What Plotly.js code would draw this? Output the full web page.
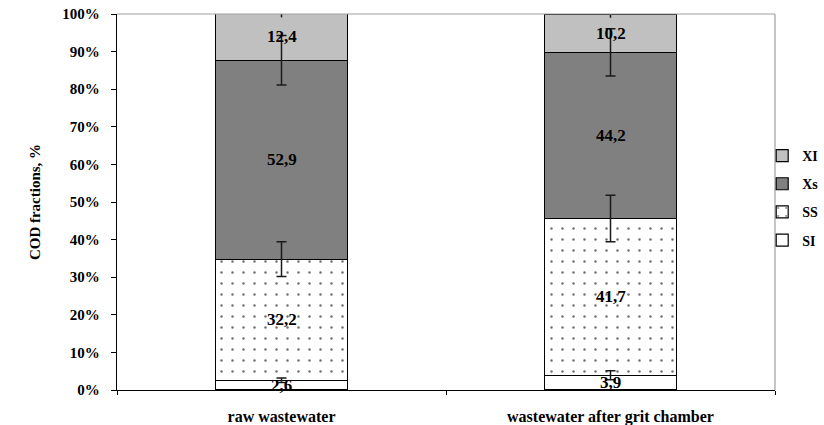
<!DOCTYPE html>
<html>
<head>
<meta charset="utf-8">
<script src="https://cdn.plot.ly/plotly-3.0.1.min.js"></script>
<style>html,body{margin:0;padding:0;background:#fff;}#chart{width:824px;height:425px;}</style>
</head>
<body>
<div id="chart"></div>
<script>
// Data
var categories = ['raw wastewater', 'wastewater after grit chamber'];
var SI = [2.6, 3.9];
var SS = [32.2, 41.7];
var Xs = [52.9, 44.2];
var XI = [12.4, 10.2];
var errSI = [0.6, 1.2];
var errSS = [4.6, 6.2];
var errXs = [6.6, 6.3];
var errXI = [1.0, 1.0];
var labelSI = ['2,6', '3,9'];
var labelSS = ['32,2', '41,7'];
var labelXs = ['52,9', '44,2'];
var labelXI = ['12,4', '10,2'];

var FONT = 'Liberation Serif, Times New Roman, serif';
var line = {color: '#000', width: 1.2};

var traces = [
  {name: 'SI', type: 'bar', x: categories, y: SI, legendgroup: 'a', legendrank: 4,
   marker: {color: '#ffffff', line: line}, hoverinfo: 'none'},
  {name: 'SS', type: 'bar', x: categories, y: SS, legendgroup: 'b', legendrank: 3,
   marker: {color: '#ffffff', line: line, pattern: {shape: '.', fgcolor: '#707070', bgcolor: '#ffffff', size: 11, solidity: 0.04}},
   hoverinfo: 'none'},
  {name: 'Xs', type: 'bar', x: categories, y: Xs, legendgroup: 'c', legendrank: 2,
   marker: {color: '#808080', line: line}, hoverinfo: 'none'},
  {name: 'XI', type: 'bar', x: categories, y: XI, legendgroup: 'd', legendrank: 1,
   marker: {color: '#c0c0c0', line: line}, hoverinfo: 'none'}
];

// error bars drawn on top of all bars, at the top of each stacked segment
var series = [[SI, labelSI, errSI, 5], [SS, labelSS, errSS, 5], [Xs, labelXs, errXs, 5], [XI, labelXI, errXI, 0]];
var annotations = [];
var bases = categories.map(function () { return 0; });
series.forEach(function (sr) {
  var tops = [];
  for (var i = 0; i < categories.length; i++) {
    var v = sr[0][i];
    annotations.push({x: categories[i], y: bases[i] + v / 2, xref: 'x', yref: 'y', text: sr[1][i],
      showarrow: false, font: {family: FONT, size: 17, color: '#000', weight: 'bold'}});
    bases[i] += v;
    tops.push(bases[i]);
  }
  traces.push({type: 'scatter', mode: 'markers', x: categories, y: tops, showlegend: false, hoverinfo: 'none',
    marker: {size: 1, opacity: 0}, cliponaxis: false,
    error_y: {type: 'data', array: sr[2], visible: true, color: '#1a1a1a', thickness: 1.5, width: sr[3]}});
});

var layout = {
  width: 824, height: 425,
  margin: {l: 117, r: 49, t: 14, b: 35, autoexpand: false},
  paper_bgcolor: '#ffffff', plot_bgcolor: '#ffffff',
  barmode: 'stack', bargap: 0.6,
  showlegend: true,
  legend: {xref: 'container', x: 0.925, xanchor: 'left', y: 0.665, yanchor: 'top', traceorder: 'grouped', tracegroupgap: 7,
    font: {family: FONT, size: 14, color: '#000', weight: 'bold'}, bgcolor: 'rgba(0,0,0,0)'},
  font: {family: FONT, color: '#000'},
  xaxis: {type: 'category', showline: true, linecolor: '#000', linewidth: 1.2, ticks: 'outside', tickson: 'boundaries',
    ticklen: 4, tickcolor: '#000', showgrid: false, zeroline: false, ticklabelstandoff: 12,
    tickfont: {family: FONT, size: 16, color: '#000', weight: 'bold'}},
  yaxis: {range: [0, 100], dtick: 10, ticksuffix: '%', showline: true, linecolor: '#000', linewidth: 1.2,
    ticks: 'outside', ticklen: 5, tickcolor: '#000', showgrid: false, zeroline: false, ticklabelstandoff: 8,
    tickfont: {family: FONT, size: 15, color: '#000', weight: 'bold'},
    title: {text: 'COD fractions, %', font: {family: FONT, size: 15, color: '#000', weight: 'bold'}, standoff: 18}},
  shapes: [
    {type: 'line', xref: 'paper', yref: 'paper', x0: 0, x1: 1, y0: 1, y1: 1, line: {color: '#a0a0a0', width: 1.2}},
    {type: 'line', xref: 'paper', yref: 'paper', x0: 1, x1: 1, y0: 0, y1: 1, line: {color: '#a0a0a0', width: 1.2}}
  ],
  annotations: annotations
};

Plotly.newPlot('chart', traces, layout, {displayModeBar: false, staticPlot: true});
</script>
</body>
</html>
